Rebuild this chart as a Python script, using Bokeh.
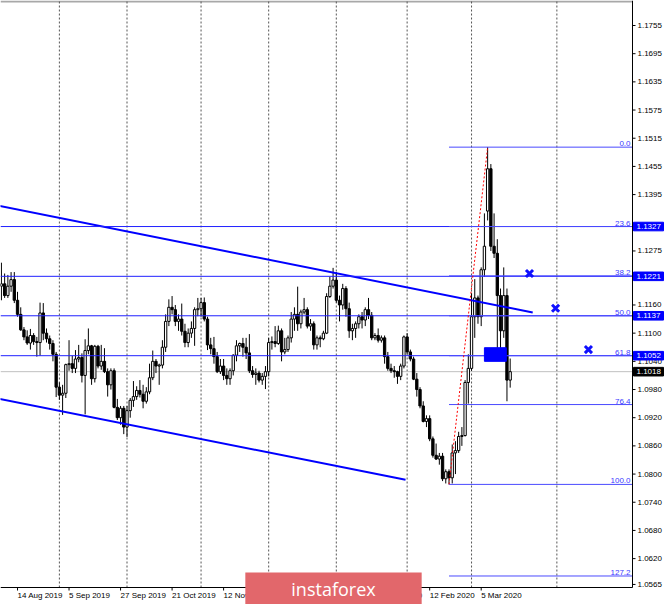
from bokeh.plotting import figure
from bokeh.models import ColumnDataSource, Range1d, Label
from bokeh.core.properties import value
from bokeh.embed import file_html
from bokeh.resources import INLINE

# ---------------- data (EUR/USD daily, bar index 0 = 23 Jul 2019) ----------------
first_bar = 11  # 7 Aug 2019

opens = [
    1.1200, 1.1205, 1.1180, 1.1200, 1.1214, 1.1170, 1.1140, 1.1107, 1.1092, 1.1079,
    1.1095, 1.1082, 1.1080, 1.1143, 1.1100, 1.1088, 1.1078, 1.1055, 1.0985, 1.0968,
    1.0972, 1.1033, 1.1035, 1.1025, 1.1045, 1.1048, 1.1010, 1.1063, 1.1073, 1.1003,
    1.1072, 1.1030, 1.1040, 1.1018, 1.0990, 1.1020, 1.0942, 1.0920, 1.0940, 1.0900,
    1.0935, 1.0957, 1.0965, 1.0978, 1.0970, 1.0955, 1.0975, 1.1005, 1.1040, 1.1030,
    1.1032, 1.1070, 1.1125, 1.1155, 1.1150, 1.1125, 1.1130, 1.1104, 1.1080, 1.1100,
    1.1110, 1.1150, 1.1152, 1.1165, 1.1130, 1.1075, 1.1067, 1.1050, 1.1018, 1.1030,
    1.1010, 1.1003, 1.1020, 1.1053, 1.1073, 1.1078, 1.1070, 1.1058, 1.1020, 1.1012,
    1.1015, 1.1000, 1.1008, 1.1018, 1.1080, 1.1082, 1.1078, 1.1105, 1.1060, 1.1065,
    1.1090, 1.1130, 1.1140, 1.1120, 1.1145, 1.1150, 1.1115, 1.1120, 1.1075, 1.1090,
    1.1088, 1.1100, 1.1178, 1.1200, 1.1213, 1.1170, 1.1160, 1.1195, 1.1152, 1.1105,
    1.1110, 1.1120, 1.1135, 1.1128, 1.1150, 1.1138, 1.1090, 1.1095, 1.1085, 1.1090,
    1.1050, 1.1025, 1.1020, 1.1018, 1.1008, 1.1030, 1.1092, 1.1060, 1.1045, 1.1002,
    1.0980, 1.0945, 1.0912, 1.0918, 1.0875, 1.0840, 1.0832, 1.0838, 1.0790, 1.0805,
    1.0792, 1.0845, 1.0850, 1.0880, 1.0882, 1.0995, 1.1025, 1.1135, 1.1175, 1.1135,
    1.1235, 1.1360, 1.1450, 1.1285, 1.1270, 1.1180, 1.1105, 1.1180, 1.1000,
]
highs = [
    1.1250, 1.1227, 1.1224, 1.1230, 1.1230, 1.1188, 1.1155, 1.1113, 1.1106, 1.1109,
    1.1100, 1.1092, 1.1165, 1.1164, 1.1110, 1.1095, 1.1085, 1.1060, 1.0995, 1.0990,
    1.1035, 1.1085, 1.1052, 1.1064, 1.1075, 1.1057, 1.1087, 1.1110, 1.1075, 1.1075,
    1.1075, 1.1075, 1.1068, 1.1025, 1.1025, 1.1025, 1.0960, 1.0945, 1.0945, 1.0945,
    1.0962, 1.0998, 1.0987, 1.1000, 1.0990, 1.0985, 1.1035, 1.1063, 1.1045, 1.1035,
    1.1085, 1.1140, 1.1172, 1.1179, 1.1160, 1.1140, 1.1163, 1.1120, 1.1110, 1.1125,
    1.1155, 1.1175, 1.1175, 1.1176, 1.1135, 1.1090, 1.1092, 1.1060, 1.1045, 1.1045,
    1.1025, 1.1025, 1.1055, 1.1085, 1.1080, 1.1090, 1.1090, 1.1098, 1.1030, 1.1025,
    1.1020, 1.1015, 1.1030, 1.1090, 1.1093, 1.1115, 1.1116, 1.1110, 1.1090, 1.1095,
    1.1145, 1.1155, 1.1199, 1.1150, 1.1175, 1.1155, 1.1130, 1.1125, 1.1095, 1.1095,
    1.1105, 1.1185, 1.1220, 1.1239, 1.1230, 1.1180, 1.1205, 1.1200, 1.1165, 1.1120,
    1.1125, 1.1140, 1.1145, 1.1155, 1.1175, 1.1145, 1.1100, 1.1110, 1.1095, 1.1095,
    1.1060, 1.1035, 1.1030, 1.1020, 1.1035, 1.1095, 1.1100, 1.1065, 1.1050, 1.1015,
    1.0985, 1.0955, 1.0925, 1.0925, 1.0880, 1.0865, 1.0845, 1.0845, 1.0810, 1.0810,
    1.0863, 1.0870, 1.0890, 1.0900, 1.1000, 1.1055, 1.1185, 1.1215, 1.1180, 1.1240,
    1.1355, 1.1496, 1.1460, 1.1355, 1.1300, 1.1195, 1.1240, 1.1195, 1.1046,
]
lows = [
    1.1170, 1.1175, 1.1175, 1.1188, 1.1164, 1.1135, 1.1105, 1.1085, 1.1075, 1.1065,
    1.1075, 1.1050, 1.1052, 1.1085, 1.1080, 1.1065, 1.1040, 1.0964, 1.0958, 1.0926,
    1.0962, 1.1020, 1.1015, 1.1015, 1.1038, 1.0995, 1.0927, 1.1055, 1.0990, 1.0995,
    1.1025, 1.1022, 1.1015, 1.0965, 1.0980, 1.0940, 1.0915, 1.0905, 1.0885, 1.0879,
    1.0920, 1.0943, 1.0958, 1.0963, 1.0940, 1.0950, 1.0970, 1.1000, 1.1015, 1.0990,
    1.1025, 1.1060, 1.1115, 1.1140, 1.1115, 1.1105, 1.1095, 1.1070, 1.1070, 1.1090,
    1.1073, 1.1136, 1.1135, 1.1125, 1.1064, 1.1055, 1.1035, 1.1015, 1.1013, 1.1000,
    1.0990, 1.0990, 1.1010, 1.1040, 1.1060, 1.1050, 1.1045, 1.1015, 1.1005, 1.0990,
    1.0995, 1.0990, 1.0981, 1.1008, 1.1065, 1.1070, 1.1075, 1.1040, 1.1055, 1.1060,
    1.1080, 1.1105, 1.1105, 1.1110, 1.1140, 1.1110, 1.1105, 1.1065, 1.1065, 1.1070,
    1.1085, 1.1098, 1.1175, 1.1195, 1.1165, 1.1125, 1.1150, 1.1135, 1.1090, 1.1085,
    1.1090, 1.1110, 1.1110, 1.1115, 1.1130, 1.1085, 1.1085, 1.1080, 1.1080, 1.1035,
    1.1020, 1.1015, 1.1005, 1.0992, 1.1000, 1.1025, 1.1055, 1.1040, 1.1000, 1.0965,
    1.0940, 1.0910, 1.0900, 1.0870, 1.0835, 1.0830, 1.0820, 1.0785, 1.0780, 1.0778,
    1.0780, 1.0800, 1.0845, 1.0860, 1.0880, 1.0950, 1.1020, 1.1090, 1.1120, 1.1115,
    1.1220, 1.1340, 1.1275, 1.1260, 1.1055, 1.1052, 1.1090, 1.0955, 1.0984,
]
closes = [
    1.1205, 1.1180, 1.1200, 1.1214, 1.1170, 1.1140, 1.1107, 1.1092, 1.1079, 1.1095,
    1.1082, 1.1080, 1.1143, 1.1100, 1.1088, 1.1078, 1.1055, 1.0985, 1.0968, 1.0972,
    1.1033, 1.1035, 1.1025, 1.1045, 1.1048, 1.1010, 1.1063, 1.1073, 1.1003, 1.1072,
    1.1030, 1.1040, 1.1018, 1.0990, 1.1020, 1.0942, 1.0920, 1.0940, 1.0900, 1.0935,
    1.0957, 1.0965, 1.0978, 1.0970, 1.0955, 1.0975, 1.1005, 1.1040, 1.1030, 1.1032,
    1.1070, 1.1125, 1.1155, 1.1150, 1.1125, 1.1130, 1.1104, 1.1080, 1.1100, 1.1110,
    1.1150, 1.1152, 1.1165, 1.1130, 1.1075, 1.1067, 1.1050, 1.1018, 1.1030, 1.1010,
    1.1003, 1.1020, 1.1053, 1.1073, 1.1078, 1.1070, 1.1058, 1.1020, 1.1012, 1.1015,
    1.1000, 1.1008, 1.1018, 1.1080, 1.1082, 1.1078, 1.1105, 1.1060, 1.1065, 1.1090,
    1.1130, 1.1140, 1.1120, 1.1145, 1.1150, 1.1115, 1.1120, 1.1075, 1.1090, 1.1088,
    1.1100, 1.1178, 1.1200, 1.1213, 1.1170, 1.1160, 1.1195, 1.1152, 1.1105, 1.1110,
    1.1120, 1.1135, 1.1128, 1.1150, 1.1138, 1.1090, 1.1095, 1.1085, 1.1090, 1.1050,
    1.1025, 1.1020, 1.1018, 1.1008, 1.1030, 1.1092, 1.1060, 1.1045, 1.1002, 1.0980,
    1.0945, 1.0912, 1.0918, 1.0875, 1.0840, 1.0832, 1.0838, 1.0790, 1.0805, 1.0792,
    1.0845, 1.0850, 1.0880, 1.0882, 1.0995, 1.1025, 1.1135, 1.1175, 1.1135, 1.1235,
    1.1285, 1.1450, 1.1285, 1.1270, 1.1180, 1.1105, 1.1180, 1.1000, 1.1018,
]

# date scale (bar index of each label)
tick_bars = [16, 32, 48, 64, 80, 96, 112, 128, 144, 160]
tick_labels = ["14 Aug 2019", "5 Sep 2019", "27 Sep 2019", "21 Oct 2019",
               "12 Nov 2019", "4 Dec 2019", "27 Dec 2019", "21 Jan 2020", "12 Feb 2020",
               "5 Mar 2020"]
month_start_bars = [29, 50, 73, 94, 115, 137, 157, 183.5]

# price scale
price_ticks = [1.1755, 1.1695, 1.1635, 1.1575, 1.1515, 1.1455, 1.1395, 1.1275, 1.1160,
               1.1100, 1.1040, 1.0980, 1.0920, 1.0860, 1.0800, 1.0740, 1.0680, 1.0620, 1.0565]

# Fibonacci grid (20 Feb low -> 9 Mar high)
fib_low_bar, fib_high_bar = 150, 162
fib_low, fib_high = 1.0778, 1.1496
fib_names = ["0.0", "23.6", "38.2", "50.0", "61.8", "76.4", "100.0", "127.2"]
fib_prices = [1.1496, 1.1327, 1.1222, 1.1137, 1.1052, 1.0948, 1.0778, 1.0583]

# horizontal levels (labelled on the price scale)
level_prices = [1.1327, 1.1221, 1.1137, 1.1052]
current_price = 1.1018

# descending channel
upper_x, upper_y = [0, 176], [1.1385, 1.1144]
lower_x, lower_y = [0, 136.5], [1.0974, 1.0788]

# zone and targets
zone_left, zone_right, zone_bottom, zone_top = 161, 167.8, 1.1040, 1.1069
target_x = [175, 183.1, 193.3]
target_y = [1.1227, 1.1153, 1.1065]

# ---------------- layout helpers (pixel geometry of the window) ----------------
W, H = 665, 604
BAR_PX, BAR0_PX = 3.22, -34.5          # px per bar, page x of bar 0
PRICE_PX, REF_P, REF_Y = 4697.0, 1.1755, 25.0


def bx(px):
    return (px - BAR0_PX) / BAR_PX


def py(px):
    return REF_P - (px - REF_Y) / PRICE_PX


AX_X = bx(632)      # price-scale line
AX_Y = py(587)      # date-scale line
LEFT = bx(0)
BOX_HALF = 4.3 / PRICE_PX
FONT = "Liberation Sans"
BLUE = "#0000ff"

p = figure(width=W, height=H, x_range=Range1d(bx(0), bx(W)), y_range=Range1d(py(H), py(0)),
           output_backend="svg", toolbar_location=None,
           x_axis_location=None, y_axis_location=None,
           min_border=0, min_border_left=0, min_border_right=0,
           min_border_top=0, min_border_bottom=0)
p.xgrid.visible = False
p.ygrid.visible = False
p.outline_line_color = None
p.background_fill_color = "white"
p.border_fill_color = "white"

# top frame edge
p.segment(x0=[LEFT], x1=[AX_X], y0=[py(1)], y1=[py(1)], line_color="#a8a8a8", line_width=2)

# month separators
n = len(month_start_bars)
p.segment(x0=month_start_bars, x1=month_start_bars, y0=[AX_Y] * n, y1=[py(0)] * n,
          line_color="#555555", line_dash="2 2", line_width=1)

# current price line
p.segment(x0=[LEFT], x1=[AX_X], y0=[current_price], y1=[current_price],
          line_color="#c0c0c0", line_width=1)

# candles
bars = list(range(first_bar, first_bar + len(opens)))
src = ColumnDataSource(dict(
    bar=bars, open=opens, high=highs, low=lows, close=closes,
    top=[max(o, c) for o, c in zip(opens, closes)],
    bottom=[min(o, c) for o, c in zip(opens, closes)],
    fill=["white" if c >= o else "black" for o, c in zip(opens, closes)],
))
p.segment(x0="bar", y0="low", x1="bar", y1="high", source=src,
          line_color="black", line_width=1)
p.vbar(x="bar", width=0.72, top="top", bottom="bottom", source=src,
       fill_color="fill", line_color="black", line_width=1)

# channel lines
p.line(upper_x, upper_y, line_color=BLUE, line_width=2)
p.line(lower_x, lower_y, line_color=BLUE, line_width=2)

# horizontal levels across the chart
m = len(level_prices)
p.segment(x0=[LEFT] * m, x1=[AX_X] * m, y0=level_prices, y1=level_prices,
          line_color="#2020ff", line_width=1)

# Fibonacci levels
k = len(fib_prices)
fib_src = ColumnDataSource(dict(x0=[fib_low_bar] * k, x1=[AX_X] * k, y=fib_prices,
                                name=fib_names, xl=[bx(630)] * k))
p.segment(x0="x0", y0="y", x1="x1", y1="y", source=fib_src, line_color="#4a4aff", line_width=1)
p.text(x="xl", y="y", text="name", source=fib_src, y_offset=-1,
       text_align="right", text_baseline="bottom", text_color="#3a3aff",
       text_font=value(FONT), text_font_size="8px")
p.line([fib_low_bar, fib_high_bar], [fib_low, fib_high], line_color="#ff0000",
       line_dash="2 2", line_width=1)

# zone box
p.quad(left=[zone_left], right=[zone_right], bottom=[zone_bottom], top=[zone_top],
       fill_color=BLUE, line_color=BLUE)

# target crosses
p.scatter(target_x, target_y, marker="x", size=10, line_width=3, line_color="#1010ff")

# ---- price scale (right) ----
p.segment(x0=[AX_X], x1=[AX_X], y0=[AX_Y], y1=[py(0)], line_color="black", line_width=1)
t = len(price_ticks)
p.segment(x0=[AX_X] * t, x1=[bx(635)] * t, y0=price_ticks, y1=price_ticks,
          line_color="black", line_width=1)
p.text(x=[bx(637)] * t, y=price_ticks, text=["%.4f" % v for v in price_ticks],
       text_align="left", text_baseline="middle", text_color="black",
       text_font=value(FONT), text_font_size="8px")

# level and current-price labels on the price scale
box_prices = level_prices + [current_price]
box_colors = [BLUE] * len(level_prices) + ["black"]
bn = len(box_prices)
p.quad(left=[bx(633)] * bn, right=[bx(663)] * bn,
       bottom=[v - BOX_HALF for v in box_prices], top=[v + BOX_HALF for v in box_prices],
       fill_color=box_colors, line_color=box_colors)
p.text(x=[bx(636)] * bn, y=box_prices, text=["%.4f" % v for v in box_prices],
       text_align="left", text_baseline="middle", text_color="white",
       text_font=value(FONT), text_font_size="8px")

# ---- date scale (bottom) ----
p.segment(x0=[LEFT], x1=[AX_X], y0=[AX_Y], y1=[AX_Y], line_color="black", line_width=1)
d = len(tick_bars)
p.segment(x0=tick_bars, x1=tick_bars, y0=[AX_Y] * d, y1=[py(590)] * d,
          line_color="black", line_width=1)
p.text(x=tick_bars, y=[py(595)] * d, text=tick_labels, text_align="left",
       text_baseline="middle", text_color="black",
       text_font=value(FONT), text_font_size="8px")

# watermark
p.add_layout(Label(x=bx(333), y=py(588), text="instaforex", text_align="center",
                   text_baseline="middle", text_font="Open Sans", text_font_size="18px",
                   text_color="white", background_fill_color="#e2676b",
                   padding=dict(left=46, right=46, top=4, bottom=4)))

open("out.html", "w").write(file_html(p, INLINE))
